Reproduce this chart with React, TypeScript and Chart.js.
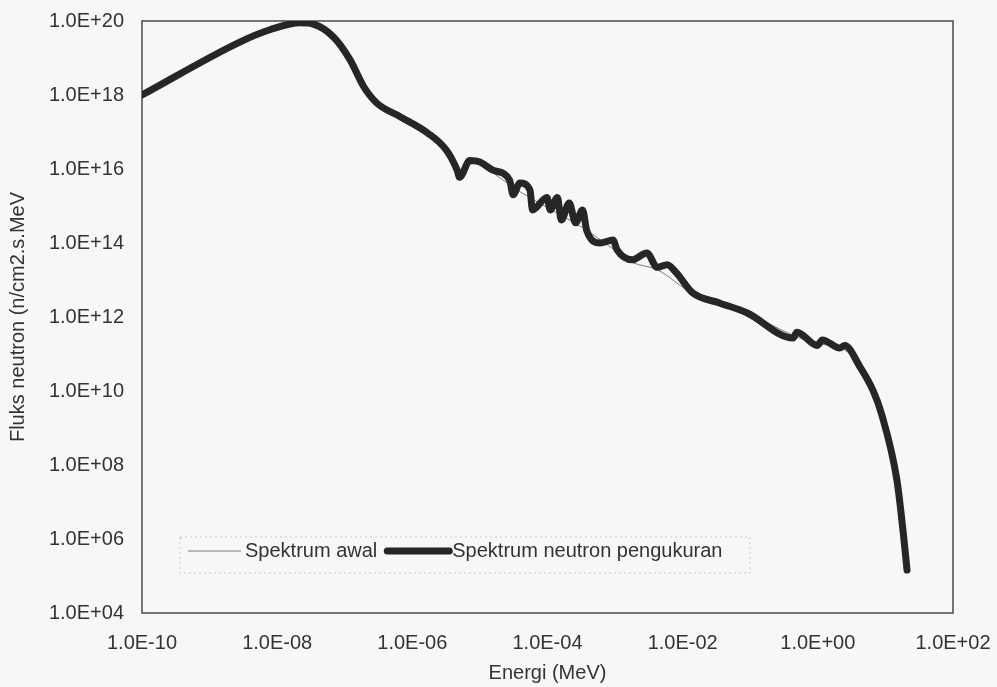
import React, { useEffect, useRef } from "react";
import { Chart, registerables } from "chart.js";

Chart.register(...registerables);

// ---- Data ----
const seriesNames = ["Spektrum awal", "Spektrum neutron pengukuran"];
const xTitle = "Energi (MeV)";
const yTitle = "Fluks neutron (n/cm2.s.MeV";

const xTickValues = [1e-10, 1e-8, 1e-6, 1e-4, 1e-2, 1e0, 1e2];
const yTickValues = [1e4, 1e6, 1e8, 1e10, 1e12, 1e14, 1e16, 1e18, 1e20];

// Spektrum neutron pengukuran (thick line)
const energyMeasured = [
  1.0e-10, 2.8e-9, 7.8e-9, 2.2e-8, 3.4e-8, 6.8e-8, 1.2e-7, 1.9e-7, 3.0e-7, 6.6e-7,
  1.7e-6, 3.2e-6, 4.6e-6, 5.0e-6, 7.1e-6, 1.0e-5, 1.55e-5, 2.75e-5, 3.1e-5, 3.9e-5,
  5.5e-5, 6.0e-5, 9.8e-5, 1.1e-4, 1.4e-4, 1.6e-4, 2.1e-4, 2.6e-4, 3.3e-4, 3.8e-4,
  6.0e-4, 9.3e-4, 1.07e-3, 1.8e-3, 2.95e-3, 4.2e-3, 5.9e-3, 8.1e-3, 1.4e-2, 3.5e-2,
  8.9e-2, 0.43, 0.49, 0.98, 1.17, 2.1, 2.5, 4.2, 6.5, 8.7,
  14.8, 18.2, 20.9,
];
const fluxMeasured = [
  1.0e18, 2.7e19, 5.8e19, 8.9e19, 8.3e19, 3.7e19, 8.9e18, 1.7e18, 6.0e17, 2.6e17,
  9.3e16, 3.2e16, 9.3e15, 6.0e15, 1.7e16, 1.55e16, 9.3e15, 5.0e15, 2.0e15, 4.2e15,
  2.7e15, 7.8e14, 1.7e15, 7.8e14, 1.7e15, 4.2e14, 1.2e15, 3.5e14, 7.8e14, 2.2e14,
  1.0e14, 1.2e14, 6.5e13, 3.5e13, 5.4e13, 2.2e13, 2.6e13, 1.55e13, 4.5e12, 2.4e12,
  1.3e12, 2.7e11, 3.9e11, 1.7e11, 2.4e11, 1.45e11, 1.7e11, 4.5e10, 1.07e10, 2.5e9,
  3.9e7, 1.7e6, 1.45e5,
];

// Spektrum awal (thin line)
const energyInitial = [
  1.0e-10, 2.8e-9, 7.8e-9, 2.2e-8, 3.4e-8, 6.8e-8, 1.2e-7, 1.9e-7, 3.0e-7, 6.6e-7,
  1.7e-6, 3.2e-6, 4.6e-6, 5.0e-6, 7.1e-6, 1.0e-5, 1.55e-5, 3.1e-5, 1.0e-4, 3.3e-4,
  1.07e-3, 1.8e-3, 4.2e-3, 1.4e-2, 8.9e-2, 0.43, 0.98, 2.1, 4.2, 8.7,
  14.8, 18.2, 20.9,
];
const fluxInitial = [
  1.0e18, 2.7e19, 5.8e19, 9.0e19, 8.4e19, 3.8e19, 9.0e18, 1.7e18, 6.0e17, 2.6e17,
  9.3e16, 3.2e16, 9.5e15, 6.2e15, 1.6e16, 1.4e16, 8.0e15, 3.2e15, 9.0e14, 2.6e14,
  5.8e13, 3.0e13, 1.9e13, 4.3e12, 1.3e12, 3.2e11, 1.9e11, 1.5e11, 5.2e10, 3.2e9,
  5.0e7, 2.0e6, 1.6e5,
];

const FONT = "'Liberation Sans', Arial, Helvetica, sans-serif";
const TEXT = "#333333";

function fmtSci(v: number): string {
  const e = Math.round(Math.log10(v));
  const sign = e < 0 ? "-" : "+";
  const a = Math.abs(e);
  return "1.0E" + sign + (a < 10 ? "0" + a : String(a));
}

const backgroundPlugin = {
  id: "bg",
  beforeDraw(chart: any) {
    const { ctx, width, height } = chart;
    ctx.save();
    ctx.fillStyle = "#f7f7f7";
    ctx.fillRect(0, 0, width, height);
    ctx.restore();
  },
};

const framePlugin = {
  id: "frame",
  beforeDatasetsDraw(chart: any) {
    const { ctx, chartArea: ca } = chart;
    ctx.save();
    ctx.strokeStyle = "#4a4a4a";
    ctx.lineWidth = 1.5;
    ctx.strokeRect(ca.left, ca.top, ca.right - ca.left, ca.bottom - ca.top);
    ctx.restore();
  },
};

const legendPlugin = {
  id: "innerLegend",
  afterDatasetsDraw(chart: any) {
    const { ctx, chartArea: ca } = chart;
    const ds = chart.data.datasets;
    ctx.save();
    // faint dotted box
    const bx = ca.left + 38;
    const by = ca.bottom - 76;
    const bw = 570;
    const bh = 36;
    ctx.fillStyle = "#f7f7f7";
    ctx.fillRect(bx, by, bw, bh);
    ctx.setLineDash([2, 3]);
    ctx.strokeStyle = "#c8c8c8";
    ctx.lineWidth = 1;
    ctx.strokeRect(bx, by, bw, bh);
    ctx.setLineDash([]);

    const cy = ca.bottom - 62;
    ctx.font = "20px " + FONT;
    ctx.textBaseline = "middle";
    ctx.textAlign = "left";
    let x = ca.left + 46;
    // series 0 (thin)
    ctx.strokeStyle = ds[0].borderColor;
    ctx.lineWidth = ds[0].borderWidth;
    ctx.beginPath();
    ctx.moveTo(x, cy);
    ctx.lineTo(x + 53, cy);
    ctx.stroke();
    x += 57;
    ctx.fillStyle = TEXT;
    ctx.fillText(seriesNames[0], x, cy);
    x += ctx.measureText(seriesNames[0]).width + 10;
    // series 1 (thick)
    ctx.strokeStyle = ds[1].borderColor;
    ctx.lineWidth = ds[1].borderWidth;
    ctx.lineCap = "round";
    ctx.beginPath();
    ctx.moveTo(x, cy);
    ctx.lineTo(x + 62, cy);
    ctx.stroke();
    x += 65;
    ctx.fillText(seriesNames[1], x, cy);
    ctx.restore();
  },
};

export default function App() {
  const canvasRef = useRef<HTMLCanvasElement | null>(null);

  useEffect(() => {
    const canvas = canvasRef.current;
    if (!canvas) return;
    const thin = energyInitial.map((e, i) => ({ x: e, y: fluxInitial[i] }));
    const thick = energyMeasured.map((e, i) => ({ x: e, y: fluxMeasured[i] }));
    const tickFont = { family: FONT, size: 20 };

    const chart = new Chart(canvas, {
      type: "line",
      data: {
        datasets: [
          {
            label: seriesNames[0],
            data: thin,
            borderColor: "#7a7a7a",
            borderWidth: 1,
            pointRadius: 0,
            fill: false,
            cubicInterpolationMode: "monotone",
            order: 1,
          },
          {
            label: seriesNames[1],
            data: thick,
            borderColor: "#262626",
            borderWidth: 7,
            pointRadius: 0,
            fill: false,
            borderJoinStyle: "round",
            borderCapStyle: "round",
            cubicInterpolationMode: "monotone",
            order: 0,
          },
        ],
      },
      options: {
        responsive: false,
        animation: false,
        events: [],
        layout: { padding: { top: 21, right: 44, left: 0, bottom: 0 } },
        plugins: {
          legend: { display: false },
          tooltip: { enabled: false },
        },
        scales: {
          x: {
            type: "logarithmic",
            position: "bottom",
            min: 1e-10,
            max: 1e2,
            grid: { display: false, drawTicks: false },
            border: { display: false },
            afterBuildTicks: (s: any) => {
              s.ticks = xTickValues.map((v) => ({ value: v }));
            },
            afterFit: (s: any) => {
              s.height = 74;
              s.paddingLeft = 0;
              s.paddingRight = 0;
            },
            ticks: {
              autoSkip: false,
              maxRotation: 0,
              minRotation: 0,
              padding: 18,
              color: TEXT,
              font: tickFont,
              callback: (v: any) => fmtSci(Number(v)),
            },
            title: {
              display: true,
              text: xTitle,
              color: TEXT,
              font: tickFont,
              padding: { top: 0, bottom: 2 },
            },
          },
          y: {
            type: "logarithmic",
            position: "left",
            min: 1e4,
            max: 1e20,
            grid: { display: false, drawTicks: false },
            border: { display: false },
            afterBuildTicks: (s: any) => {
              s.ticks = yTickValues.map((v) => ({ value: v }));
            },
            afterFit: (s: any) => {
              s.width = 142;
              s.paddingTop = 0;
              s.paddingBottom = 0;
            },
            ticks: {
              autoSkip: false,
              padding: 18,
              color: TEXT,
              font: tickFont,
              callback: (v: any) => fmtSci(Number(v)),
            },
            title: {
              display: true,
              text: yTitle,
              color: TEXT,
              font: tickFont,
              padding: { top: 6, bottom: 0 },
            },
          },
        },
      } as any,
      plugins: [backgroundPlugin, framePlugin, legendPlugin],
    });

    return () => {
      chart.destroy();
    };
  }, []);

  return (
    <div style={{ position: "absolute", left: 0, top: 0, width: 997, height: 687 }}>
      <canvas ref={canvasRef} width={997} height={687} style={{ display: "block" }} />
    </div>
  );
}
